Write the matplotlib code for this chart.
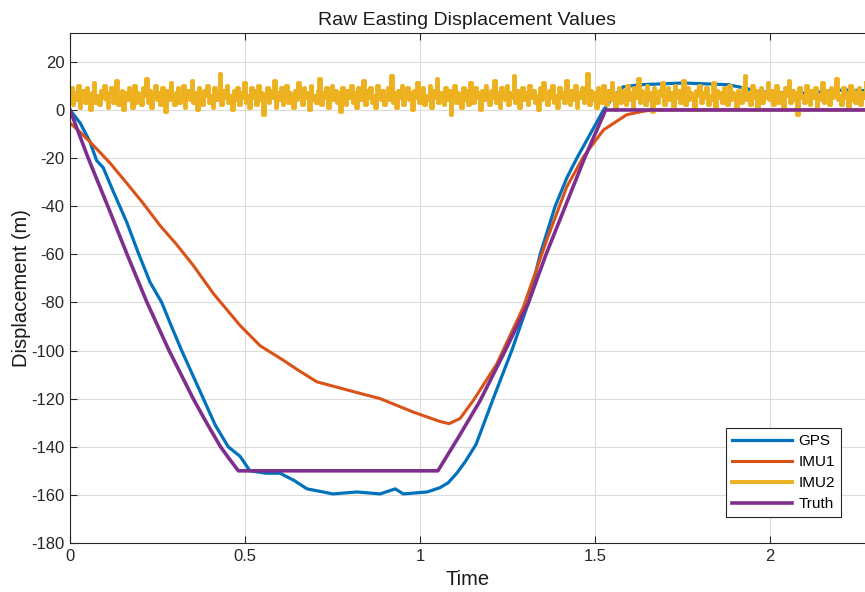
'''
Raw easting displacement: GPS, two IMUs and the true path
'''

import numpy as np
import matplotlib.pyplot as plt

plt.rcParams['font.family'] = ['Liberation Sans', 'DejaVu Sans']
plt.rcParams['axes.unicode_minus'] = False

# Truth path (time, displacement)
truth_t = [0, 0.052, 0.108, 0.163, 0.22, 0.283, 0.352, 0.39, 0.43, 0.455,
           0.481, 1.051, 1.11, 1.171, 1.24, 1.31, 1.36, 1.415, 1.47, 1.53,
           2.28]
truth_y = [0, -20, -40, -60, -80, -100, -120, -130, -140, -145,
           -150, -150, -136, -121, -101, -80, -60, -40, -20, 0,
           0]

# GPS reading off the plot
gps_t = [0, 0.029, 0.057, 0.076, 0.095, 0.124, 0.162, 0.194, 0.229, 0.262,
         0.29, 0.319, 0.35, 0.381, 0.415, 0.452, 0.486, 0.514, 0.56, 0.6,
         0.64, 0.677, 0.751, 0.82, 0.886, 0.929, 0.952, 1.02, 1.057, 1.08,
         1.105, 1.13, 1.16, 1.209, 1.262, 1.31, 1.343, 1.386, 1.42, 1.448,
         1.49, 1.524, 1.55, 1.58, 1.63, 1.75, 1.88, 1.93, 1.97, 2.1,
         2.21, 2.28]
gps_y = [0, -5.4, -13.2, -21, -24, -34, -46.6, -59, -71.7, -80,
         -90, -100, -110, -120, -131, -140, -144, -150, -151, -151,
         -154, -157.5, -159.6, -158.8, -159.6, -157.5, -159.6, -158.8, -157, -155,
         -151, -146, -139, -120, -100, -80, -60, -40, -28, -20,
         -9, 0, 5, 9.6, 10.5, 11.2, 10.5, 9, 7.5, 7,
         8.3, 8]

# First IMU (smooth, lagging)
imu1_t = [0, 0.029, 0.066, 0.114, 0.162, 0.209, 0.257, 0.305, 0.352, 0.41,
          0.486, 0.543, 0.609, 0.65, 0.705, 0.8, 0.886, 0.981, 1.057, 1.083,
          1.114, 1.152, 1.219, 1.295, 1.362, 1.419, 1.467, 1.524, 1.59, 1.628,
          1.66, 2.28]
imu1_y = [-5.4, -9.2, -14.6, -22, -30.4, -38.8, -48, -56, -64.6, -76.4,
          -89.6, -98, -104, -108, -113, -116.7, -120, -125.6, -129.5, -130.4,
          -128.3, -120.8, -105.6, -82, -54, -32, -19.4, -8.3, -2, -0.8,
          0, 0]

# Second IMU (noisy, sampled every 0.005 s)
imu2_y = [
    5, 9, 2, 7, 4, 10, 1, 6, 8, 3, 9, 5, 0, 7, 11, 3, 6, 2, 8, 5,
    10, 4, 1, 7, 9, 3, 6, 12, 2, 5, 8, 0, 7, 4, 9, 6, 1, 10, 3, 7,
    5, 2, 9, 6, 13, 3, 8, 1, 6, 10, 4, 7, 2, 9, 5, -1, 8, 4, 11, 6,
    2, 7, 9, 3, 5, 10, 1, 6, 8, 4, 12, 3, 7, 0, 9, 5, 2, 8, 6, 10,
    3, 6, 1, 9, 4, 7, 15, 2, 8, 5, 10, 3, 6, 0, 8, 4, 9, 2, 7, 5,
    11, 3, 6, 1, 9, 5, 8, 2, 10, 4, 7, -2, 6, 9, 3, 8, 5, 12, 1, 7,
    4, 9, 2, 6, 10, 3, 7, 5, 1, 8, 4, 11, 6, 2, 9, 5, 7, 0, 10, 4,
    6, 3, 8, 13, 2, 7, 5, 9, 1, 6, 10, 4, 8, 3, 7, -1, 9, 5, 2, 8,
    5, 10, 3, 7, 1, 9, 6, 4, 12, 2, 8, 5, 9, 3, 6, 1, 10, 7, 4, 8,
    2, 6, 9, 4, 14, 3, 7, 1, 8, 5, 10, 2, 6, 9, 4, 7, 0, 8, 5, 11,
    3, 7, 9, 2, 6, 4, 10, 1, 8, 5, 13, 3, 7, 6, 2, 9, 4, 8, -2, 6,
    10, 3, 7, 5, 1, 9, 4, 8, 2, 11, 6, 3, 9, 5, 7, 0, 8, 4, 10, 6,
    2, 8, 5, 12, 3, 7, 1, 9, 6, 4, 10, 2, 7, 5, 14, 3, 8, 1, 6, 9,
    4, 7, 2, 10, 5, 8, 3, 6, 0, 9, 4, 11, 7, 2, 8, 5, 10, 3, 6, 1,
    9, 5, 7, 3, 12, 6, 2, 8, 4, 10, 1, 7, 5, 9, 3, 6, 15, 2, 8, 4,
    7, 1, 9, 5, 3, 10, 6, 2, 8, 4, 11, 7, 0, 6, 9, 3, 8, 5, 2, 10,
    4, 7, 1, 9, 5, 13, 3, 8, 6, 2, 10, 4, 7, -1, 9, 5, 3, 8, 6, 11,
    2, 6, 9, 4, 7, 1, 10, 5, 8, 3, 6, 12, 2, 9, 4, 7, 5, 0, 8, 6,
    10, 3, 7, 5, 9, 2, 6, 4, 11, 1, 8, 5, 7, 3, 9, 6, 2, 10, 4, 7,
    5, 1, 8, 6, 3, 9, 14, 4, 7, 2, 10, 5, 8, 0, 6, 9, 3, 7, 5, 11,
    4, 8, 2, 6, 10, 3, 7, 5, 1, 9, 6, 12, 3, 8, 4, 7, -2, 9, 5, 6,
    3, 10, 7, 2, 8, 5, 9, 1, 6, 4, 11, 3, 8, 6, 2, 9, 5, 7, 13, 4,
    6, 2, 9, 5, 7, 1, 10, 4, 8, 3, 6, 9, 2, 7, 5, 11, 3]
imu2_t = np.linspace(0, 0.005*(len(imu2_y)-1), len(imu2_y))

xticks = [0, 0.5, 1, 1.5, 2]
yticks = [-180, -160, -140, -120, -100, -80, -60, -40, -20, 0, 20]

fig = plt.figure(figsize=(8.65, 5.92), dpi=100)
ax = fig.add_axes([0.0809, 0.0828, 0.9191, 0.8615])

ax.plot(gps_t, gps_y, color='#0072BD', lw=2.3, label='GPS')
ax.plot(imu1_t, imu1_y, color='#D95319', lw=2.2, label='IMU1')
ax.plot(imu2_t, imu2_y, color='#EDB120', lw=2.8, drawstyle='steps-mid', label='IMU2')
ax.plot(truth_t, truth_y, color='#7E2F8E', lw=2.6, label='Truth')

ax.set_xlim(0, 2.271)
ax.set_ylim(-180, 32)
ax.set_xticks(xticks)
ax.set_xticklabels(['0', '0.5', '1', '1.5', '2'])
ax.set_yticks(yticks)
ax.grid(True, color='#dcdcdc', lw=0.8)
ax.set_axisbelow(True)
ax.tick_params(direction='in', top=True, right=False, labelsize=12,
               colors='#262626', length=5, pad=4)
for s in ax.spines.values():
    s.set_color('#262626')
    s.set_linewidth(0.8)
ax.spines['right'].set_visible(False)

ax.set_title('Raw Easting Displacement Values', fontsize=14, pad=6, color='#1a1a1a')
ax.set_xlabel('Time', fontsize=14.5, color='#1a1a1a', labelpad=5)
ax.set_ylabel('Displacement (m)', fontsize=14.5, color='#1a1a1a', labelpad=0)

leg = ax.legend(loc='lower right', bbox_to_anchor=(0.970, 0.051), fontsize=11,
                handlelength=3.9, fancybox=False, framealpha=1,
                edgecolor='#262626', borderpad=0.4, labelspacing=0.45,
                handletextpad=0.45, borderaxespad=0)
leg.get_frame().set_linewidth(0.8)

plt.savefig('out.png', dpi=100)
